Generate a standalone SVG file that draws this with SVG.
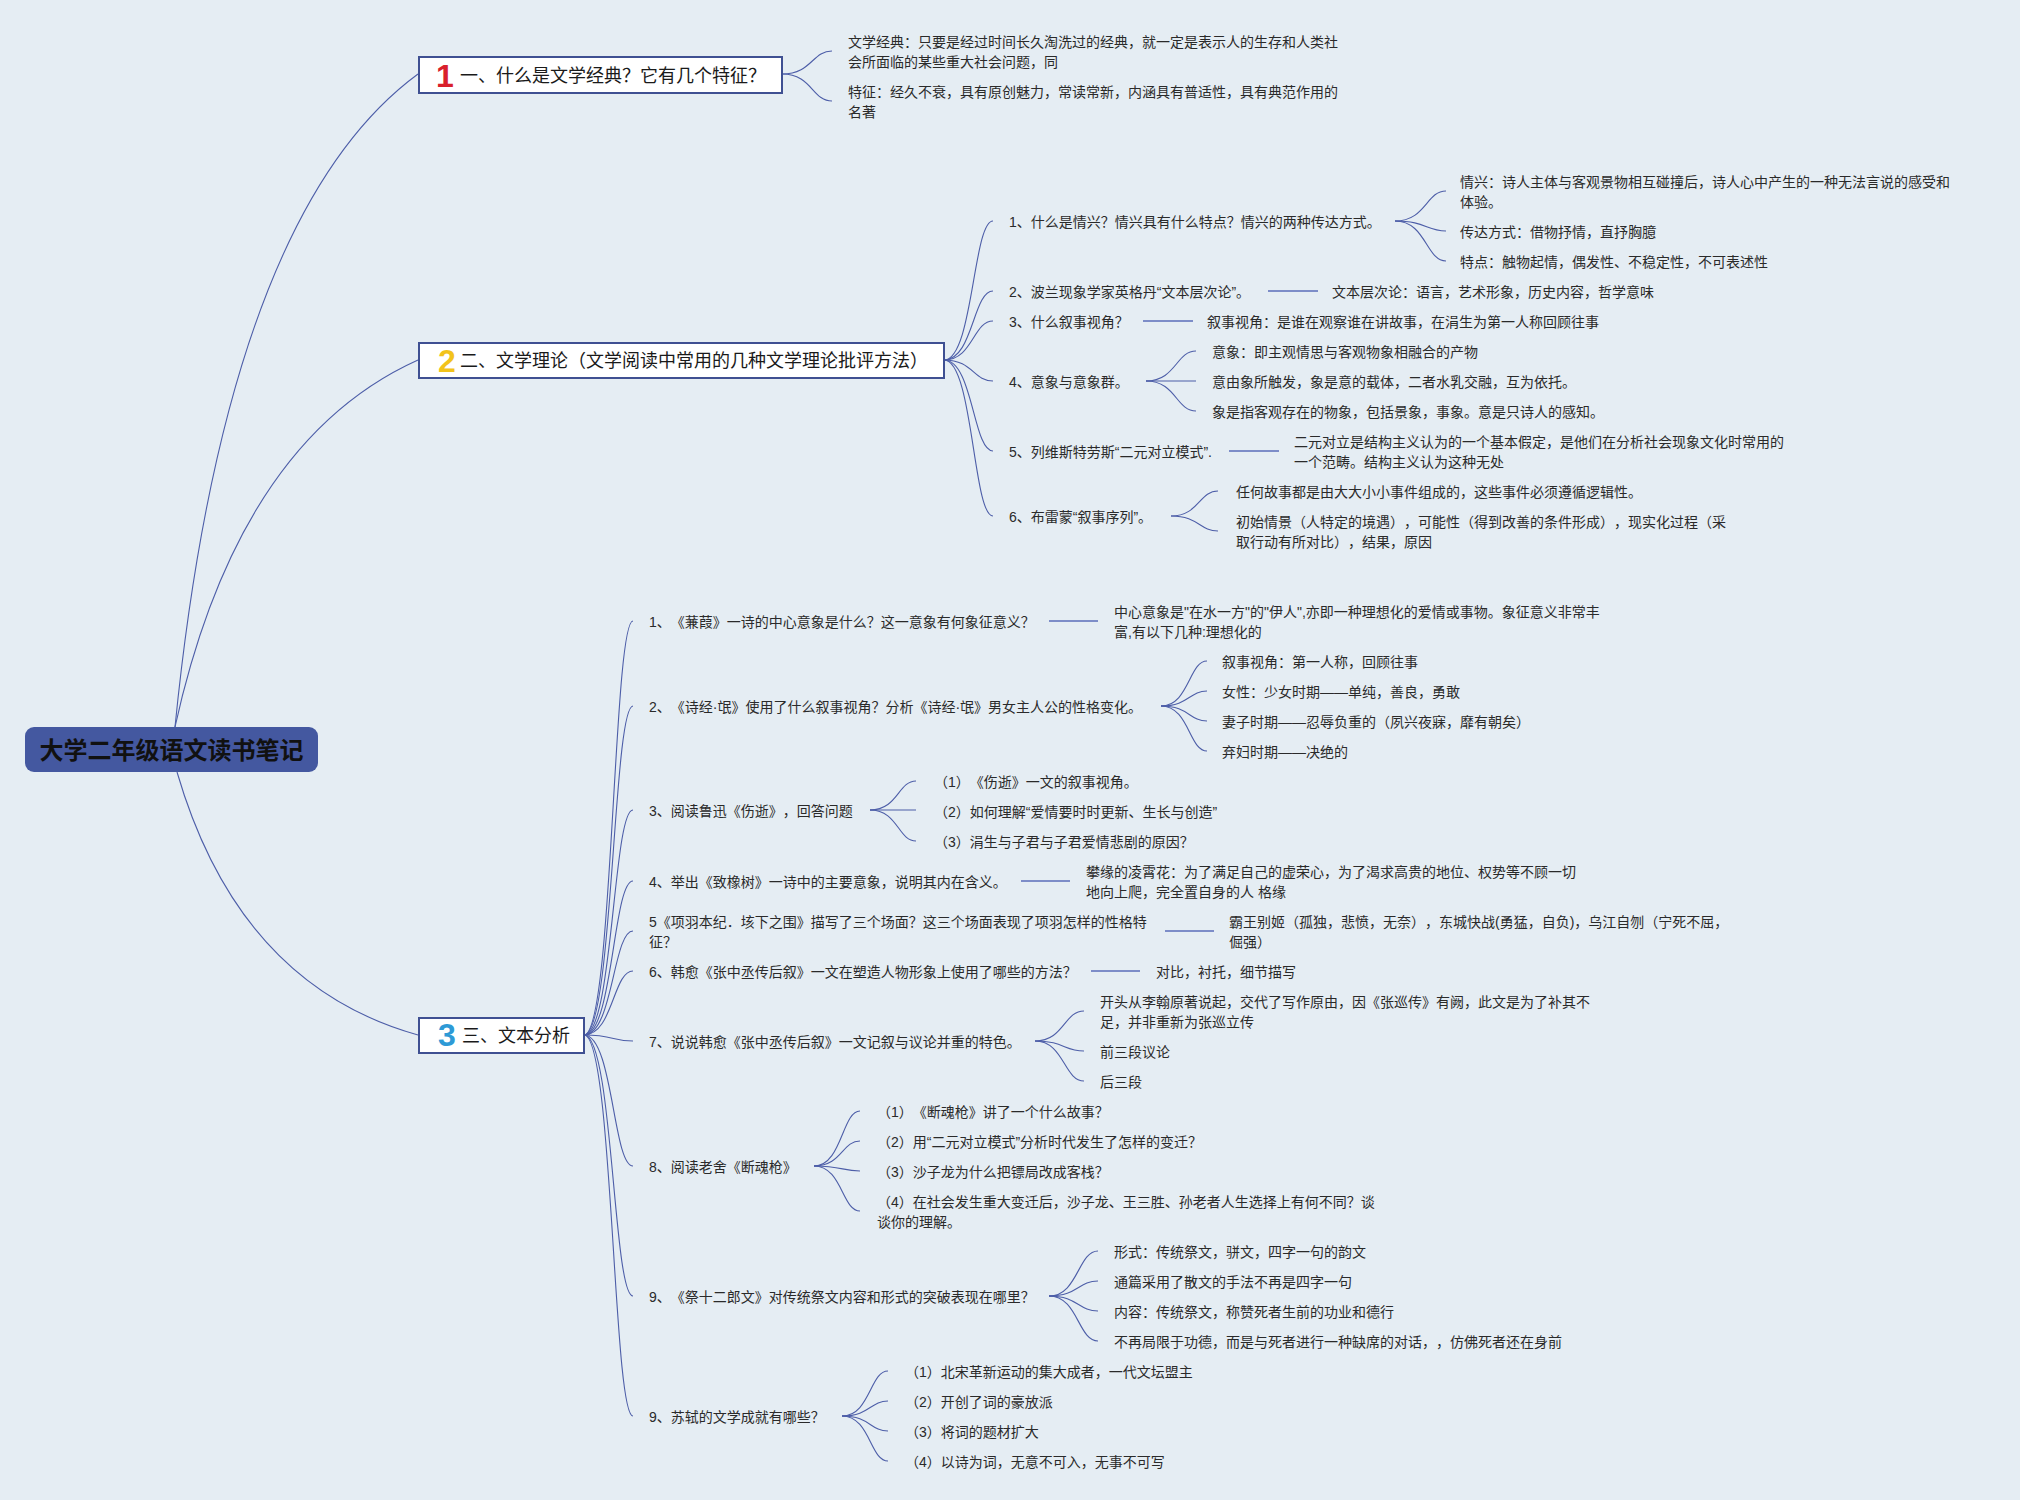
<svg xmlns="http://www.w3.org/2000/svg" width="2020" height="1500" viewBox="0 0 2020 1500">
<style>
text{text-spacing-trim:space-all}
.t{font-family:"Liberation Sans","Noto Sans CJK SC",sans-serif;font-size:14px;fill:#2a2a2a}
.h{font-family:"Liberation Sans","Noto Sans CJK SC",sans-serif;font-size:18px;fill:#1a1a1a}
.n{font-family:"Liberation Sans",Arial,sans-serif;font-size:32px;font-weight:bold;text-anchor:middle}
.box{fill:#ffffff;stroke:#3f5092;stroke-width:2}
.c{fill:none;stroke:#4d5ea8;stroke-width:1.1}
.s{fill:none;stroke:#7d8dc8;stroke-width:2.2}
</style>
<rect x="0" y="0" width="2020" height="1500" fill="#e5edf3"/>
<g id="connectors">
<path class="c" d="M175,727 Q226,215 418,74"/>
<path class="c" d="M175,727 Q238,441 418,360"/>
<path class="c" d="M177,772 Q239,985 418,1035"/>
<path class="c" d="M782,74 C812,74 812,51 832,51"/>
<path class="c" d="M782,74 C812,74 812,101 832,101"/>
<path class="c" d="M944,360 C973,360 973,221 993,221"/>
<path class="c" d="M944,360 C973,360 973,291 993,291"/>
<path class="c" d="M944,360 C973,360 973,321 993,321"/>
<path class="c" d="M944,360 C973,360 973,381 993,381"/>
<path class="c" d="M944,360 C973,360 973,451 993,451"/>
<path class="c" d="M944,360 C973,360 973,516 993,516"/>
<path class="c" d="M584,1035 C613,1035 613,621 633,621"/>
<path class="c" d="M584,1035 C613,1035 613,706 633,706"/>
<path class="c" d="M584,1035 C613,1035 613,810 633,810"/>
<path class="c" d="M584,1035 C613,1035 613,881 633,881"/>
<path class="c" d="M584,1035 C613,1035 613,931 633,931"/>
<path class="c" d="M584,1035 C613,1035 613,971 633,971"/>
<path class="c" d="M584,1035 C613,1035 613,1041 633,1041"/>
<path class="c" d="M584,1035 C613,1035 613,1166 633,1166"/>
<path class="c" d="M584,1035 C613,1035 613,1296 633,1296"/>
<path class="c" d="M584,1035 C613,1035 613,1416 633,1416"/>
<path class="c" d="M1395,221 C1426,221 1426,191 1446,191"/>
<path class="c" d="M1395,221 C1426,221 1426,231 1446,231"/>
<path class="c" d="M1395,221 C1426,221 1426,261 1446,261"/>
<path class="c" d="M1146,381 C1176,381 1176,351 1196,351"/>
<path class="c" d="M1146,381 L1196,381"/>
<path class="c" d="M1146,381 C1176,381 1176,411 1196,411"/>
<path class="c" d="M1171,516 C1199,516 1199,491 1218,491"/>
<path class="c" d="M1171,516 C1199,516 1199,531 1218,531"/>
<path class="c" d="M1161,706 C1189,706 1189,661 1207,661"/>
<path class="c" d="M1161,706 C1189,706 1189,691 1207,691"/>
<path class="c" d="M1161,706 C1189,706 1189,721 1207,721"/>
<path class="c" d="M1161,706 C1189,706 1189,751 1207,751"/>
<path class="c" d="M870,810 C898,810 898,781 916,781"/>
<path class="c" d="M870,810 L916,810"/>
<path class="c" d="M870,810 C898,810 898,841 916,841"/>
<path class="c" d="M1035,1041 C1064,1041 1064,1011 1084,1011"/>
<path class="c" d="M1035,1041 C1064,1041 1064,1051 1084,1051"/>
<path class="c" d="M1035,1041 C1064,1041 1064,1081 1084,1081"/>
<path class="c" d="M814,1166 C842,1166 842,1111 860,1111"/>
<path class="c" d="M814,1166 C842,1166 842,1141 860,1141"/>
<path class="c" d="M814,1166 C842,1166 842,1171 860,1171"/>
<path class="c" d="M814,1166 C842,1166 842,1211 860,1211"/>
<path class="c" d="M1049,1296 C1078,1296 1078,1251 1098,1251"/>
<path class="c" d="M1049,1296 C1078,1296 1078,1281 1098,1281"/>
<path class="c" d="M1049,1296 C1078,1296 1078,1311 1098,1311"/>
<path class="c" d="M1049,1296 C1078,1296 1078,1341 1098,1341"/>
<path class="c" d="M842,1416 C870,1416 870,1371 888,1371"/>
<path class="c" d="M842,1416 C870,1416 870,1401 888,1401"/>
<path class="c" d="M842,1416 C870,1416 870,1431 888,1431"/>
<path class="c" d="M842,1416 C870,1416 870,1461 888,1461"/>
<line class="s" x1="1268" y1="291" x2="1318" y2="291"/>
<line class="s" x1="1143" y1="321" x2="1193" y2="321"/>
<line class="s" x1="1229" y1="451" x2="1279" y2="451"/>
<line class="s" x1="1049" y1="621" x2="1098" y2="621"/>
<line class="s" x1="1021" y1="881" x2="1070" y2="881"/>
<line class="s" x1="1165" y1="931" x2="1214" y2="931"/>
<line class="s" x1="1091" y1="971" x2="1140" y2="971"/>
</g>
<g id="root">
<rect x="25" y="727" width="293" height="45" rx="9" fill="#4458a0"/>
<text x="171.5" y="759" style="font-family:'Noto Sans CJK SC','Noto Sans',sans-serif;font-size:24px;font-weight:bold;fill:#111;text-anchor:middle">大学二年级语文读书笔记</text>
</g>
<g id="sec1">
<rect class="box" x="419" y="57" width="363" height="36"/>
<text class="n" x="445" y="87" fill="#d9202c">1</text>
<text class="h" x="460" y="81.5">一、什么是文学经典？它有几个特征？</text>
</g>
<g id="s1-c1"><text class="t"><tspan x="848" y="47">文学经典：只要是经过时间长久淘洗过的经典，就一定是表示人的生存和人类社</tspan><tspan x="848" y="67">会所面临的某些重大社会问题，同</tspan></text></g>
<g id="s1-c2"><text class="t"><tspan x="848" y="97">特征：经久不衰，具有原创魅力，常读常新，内涵具有普适性，具有典范作用的</tspan><tspan x="848" y="117">名著</tspan></text></g>
<g id="sec2">
<rect class="box" x="419" y="343" width="525" height="35"/>
<text class="n" x="447" y="372" fill="#f2c31b">2</text>
<text class="h" x="460" y="367">二、文学理论（文学阅读中常用的几种文学理论批评方法）</text>
</g>
<g id="s2-1"><text class="t" x="1009" y="227">1、什么是情兴？情兴具有什么特点？情兴的两种传达方式。</text></g>
<g id="s2-1-1"><text class="t"><tspan x="1460" y="187">情兴：诗人主体与客观景物相互碰撞后，诗人心中产生的一种无法言说的感受和</tspan><tspan x="1460" y="207">体验。</tspan></text></g>
<g id="s2-1-2"><text class="t" x="1460" y="237">传达方式：借物抒情，直抒胸臆</text></g>
<g id="s2-1-3"><text class="t" x="1460" y="267">特点：触物起情，偶发性、不稳定性，不可表述性</text></g>
<g id="s2-2"><text class="t" x="1009" y="297">2、波兰现象学家英格丹“文本层次论”。</text></g>
<g id="s2-2-1"><text class="t" x="1332" y="297">文本层次论：语言，艺术形象，历史内容，哲学意味</text></g>
<g id="s2-3"><text class="t" x="1009" y="327">3、什么叙事视角？</text></g>
<g id="s2-3-1"><text class="t" x="1207" y="327">叙事视角：是谁在观察谁在讲故事，在涓生为第一人称回顾往事</text></g>
<g id="s2-4"><text class="t" x="1009" y="387">4、意象与意象群。</text></g>
<g id="s2-4-1"><text class="t" x="1212" y="357">意象：即主观情思与客观物象相融合的产物</text></g>
<g id="s2-4-2"><text class="t" x="1212" y="387">意由象所触发，象是意的载体，二者水乳交融，互为依托。</text></g>
<g id="s2-4-3"><text class="t" x="1212" y="417">象是指客观存在的物象，包括景象，事象。意是只诗人的感知。</text></g>
<g id="s2-5"><text class="t" x="1009" y="457">5、列维斯特劳斯“二元对立模式”.</text></g>
<g id="s2-5-1"><text class="t"><tspan x="1294" y="447">二元对立是结构主义认为的一个基本假定，是他们在分析社会现象文化时常用的</tspan><tspan x="1294" y="467">一个范畴。结构主义认为这种无处</tspan></text></g>
<g id="s2-6"><text class="t" x="1009" y="522">6、布雷蒙“叙事序列”。</text></g>
<g id="s2-6-1"><text class="t" x="1236" y="497">任何故事都是由大大小小事件组成的，这些事件必须遵循逻辑性。</text></g>
<g id="s2-6-2"><text class="t"><tspan x="1236" y="527">初始情景（人特定的境遇），可能性（得到改善的条件形成），现实化过程（采</tspan><tspan x="1236" y="547">取行动有所对比），结果，原因</tspan></text></g>
<g id="sec3">
<rect class="box" x="419" y="1018" width="165" height="35"/>
<text class="n" x="447" y="1046" fill="#2e9ad6">3</text>
<text class="h" x="462" y="1042">三、文本分析</text>
</g>
<g id="s3-1"><text class="t" x="649" y="627">1、《蒹葭》一诗的中心意象是什么？这一意象有何象征意义？</text></g>
<g id="s3-1-1"><text class="t"><tspan x="1114" y="617">中心意象是"在水一方"的"伊人",亦即一种理想化的爱情或事物。象征意义非常丰</tspan><tspan x="1114" y="637">富,有以下几种:理想化的</tspan></text></g>
<g id="s3-2"><text class="t" x="649" y="712">2、《诗经·氓》使用了什么叙事视角？分析《诗经·氓》男女主人公的性格变化。</text></g>
<g id="s3-2-1"><text class="t" x="1222" y="667">叙事视角：第一人称，回顾往事</text></g>
<g id="s3-2-2"><text class="t" x="1222" y="697">女性：少女时期——单纯，善良，勇敢</text></g>
<g id="s3-2-3"><text class="t" x="1222" y="727">妻子时期——忍辱负重的（夙兴夜寐，靡有朝矣）</text></g>
<g id="s3-2-4"><text class="t" x="1222" y="757">弃妇时期——决绝的</text></g>
<g id="s3-3"><text class="t" x="649" y="816">3、阅读鲁迅《伤逝》，回答问题</text></g>
<g id="s3-3-1"><text class="t" x="934" y="787">（1）《伤逝》一文的叙事视角。</text></g>
<g id="s3-3-2"><text class="t" x="934" y="817">（2）如何理解“爱情要时时更新、生长与创造”</text></g>
<g id="s3-3-3"><text class="t" x="934" y="847">（3）涓生与子君与子君爱情悲剧的原因？</text></g>
<g id="s3-4"><text class="t" x="649" y="887">4、举出《致橡树》一诗中的主要意象，说明其内在含义。</text></g>
<g id="s3-4-1"><text class="t"><tspan x="1086" y="877">攀缘的凌霄花：为了满足自己的虚荣心，为了渴求高贵的地位、权势等不顾一切</tspan><tspan x="1086" y="897">地向上爬，完全置自身的人 格缘</tspan></text></g>
<g id="s3-5"><text class="t"><tspan x="649" y="927">5《项羽本纪．垓下之围》描写了三个场面？这三个场面表现了项羽怎样的性格特</tspan><tspan x="649" y="947">征？</tspan></text></g>
<g id="s3-5-1"><text class="t"><tspan x="1229" y="927">霸王别姬（孤独，悲愤，无奈），东城快战(勇猛，自负)，乌江自刎（宁死不屈，</tspan><tspan x="1229" y="947">倔强）</tspan></text></g>
<g id="s3-6"><text class="t" x="649" y="977">6、韩愈《张中丞传后叙》一文在塑造人物形象上使用了哪些的方法？</text></g>
<g id="s3-6-1"><text class="t" x="1156" y="977">对比，衬托，细节描写</text></g>
<g id="s3-7"><text class="t" x="649" y="1047">7、说说韩愈《张中丞传后叙》一文记叙与议论并重的特色。</text></g>
<g id="s3-7-1"><text class="t"><tspan x="1100" y="1007">开头从李翰原著说起，交代了写作原由，因《张巡传》有阙，此文是为了补其不</tspan><tspan x="1100" y="1027">足，并非重新为张巡立传</tspan></text></g>
<g id="s3-7-2"><text class="t" x="1100" y="1057">前三段议论</text></g>
<g id="s3-7-3"><text class="t" x="1100" y="1087">后三段</text></g>
<g id="s3-8"><text class="t" x="649" y="1172">8、阅读老舍《断魂枪》</text></g>
<g id="s3-8-1"><text class="t" x="877" y="1117">（1）《断魂枪》讲了一个什么故事？</text></g>
<g id="s3-8-2"><text class="t" x="877" y="1147">（2）用“二元对立模式”分析时代发生了怎样的变迁？</text></g>
<g id="s3-8-3"><text class="t" x="877" y="1177">（3）沙子龙为什么把镖局改成客栈？</text></g>
<g id="s3-8-4"><text class="t"><tspan x="877" y="1207">（4）在社会发生重大变迁后，沙子龙、王三胜、孙老者人生选择上有何不同？谈</tspan><tspan x="877" y="1227">谈你的理解。</tspan></text></g>
<g id="s3-9"><text class="t" x="649" y="1302">9、《祭十二郎文》对传统祭文内容和形式的突破表现在哪里？</text></g>
<g id="s3-9-1"><text class="t" x="1114" y="1257">形式：传统祭文，骈文，四字一句的韵文</text></g>
<g id="s3-9-2"><text class="t" x="1114" y="1287">通篇采用了散文的手法不再是四字一句</text></g>
<g id="s3-9-3"><text class="t" x="1114" y="1317">内容：传统祭文，称赞死者生前的功业和德行</text></g>
<g id="s3-9-4"><text class="t" x="1114" y="1347">不再局限于功德，而是与死者进行一种缺席的对话，，仿佛死者还在身前</text></g>
<g id="s3-10"><text class="t" x="649" y="1422">9、苏轼的文学成就有哪些？</text></g>
<g id="s3-10-1"><text class="t" x="905" y="1377">（1）北宋革新运动的集大成者，一代文坛盟主</text></g>
<g id="s3-10-2"><text class="t" x="905" y="1407">（2）开创了词的豪放派</text></g>
<g id="s3-10-3"><text class="t" x="905" y="1437">（3）将词的题材扩大</text></g>
<g id="s3-10-4"><text class="t" x="905" y="1467">（4）以诗为词，无意不可入，无事不可写</text></g>
</svg>
